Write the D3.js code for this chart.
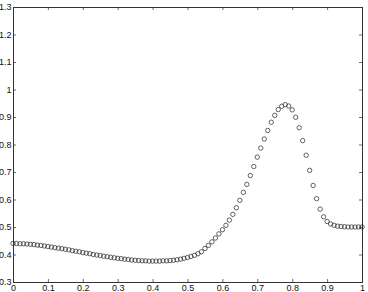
<!DOCTYPE html>
<html>
<head>
<meta charset="utf-8">
<script src="https://cdn.jsdelivr.net/npm/d3@7"></script>
<style>
  body { margin: 0; background: #fff; }
  svg { display: block; }
  .tick text { font-family: "Liberation Sans", Arial, sans-serif; font-size: 9px; fill: #111; }
</style>
</head>
<body>
<div id="chart"></div>
<script>
let width = 368
let height = 292

// sample positions and values
let xs = [0.00, 0.01, 0.02, 0.03, 0.04, 0.05, 0.06, 0.07, 0.08, 0.09,
          0.10, 0.11, 0.12, 0.13, 0.14, 0.15, 0.16, 0.17, 0.18, 0.19,
          0.20, 0.21, 0.22, 0.23, 0.24, 0.25, 0.26, 0.27, 0.28, 0.29,
          0.30, 0.31, 0.32, 0.33, 0.34, 0.35, 0.36, 0.37, 0.38, 0.39,
          0.40, 0.41, 0.42, 0.43, 0.44, 0.45, 0.46, 0.47, 0.48, 0.49,
          0.50, 0.51, 0.52, 0.53, 0.54, 0.55, 0.56, 0.57, 0.58, 0.59,
          0.60, 0.61, 0.62, 0.63, 0.64, 0.65, 0.66, 0.67, 0.68, 0.69,
          0.70, 0.71, 0.72, 0.73, 0.74, 0.75, 0.76, 0.77, 0.78, 0.79,
          0.80, 0.81, 0.82, 0.83, 0.84, 0.85, 0.86, 0.87, 0.88, 0.89,
          0.90, 0.91, 0.92, 0.93, 0.94, 0.95, 0.96, 0.97, 0.98, 0.99, 1.00]
let ys = [0.440, 0.440, 0.439, 0.439, 0.438, 0.437, 0.436, 0.434, 0.433, 0.431,
          0.429, 0.427, 0.425, 0.423, 0.421, 0.419, 0.417, 0.414, 0.412, 0.410,
          0.407, 0.405, 0.403, 0.400, 0.398, 0.396, 0.394, 0.392, 0.390, 0.388,
          0.386, 0.385, 0.383, 0.382, 0.380, 0.379, 0.378, 0.377, 0.377, 0.376,
          0.376, 0.376, 0.376, 0.377, 0.377, 0.378, 0.379, 0.381, 0.383, 0.386,
          0.389, 0.393, 0.397, 0.403, 0.410, 0.422, 0.433, 0.446, 0.460, 0.475,
          0.490, 0.506, 0.525, 0.546, 0.570, 0.597, 0.626, 0.655, 0.687, 0.720,
          0.754, 0.787, 0.820, 0.851, 0.881, 0.906, 0.927, 0.939, 0.945, 0.940,
          0.926, 0.899, 0.861, 0.814, 0.761, 0.706, 0.651, 0.603, 0.565, 0.537,
          0.520, 0.511, 0.506, 0.503, 0.502, 0.501, 0.500, 0.500, 0.500, 0.500, 0.500]

let xTicks = [0, 0.1, 0.2, 0.3, 0.4, 0.5, 0.6, 0.7, 0.8, 0.9, 1]
let yTicks = [0.3, 0.4, 0.5, 0.6, 0.7, 0.8, 0.9, 1, 1.1, 1.2, 1.3]

let margin = { top: 7, right: 6, bottom: 10, left: 13 }

let svg = d3.select('#chart')
            .append('svg')
            .attr('width', width)
            .attr('height', height)

let x = d3.scaleLinear()
          .domain([0, 1])
          .range([margin.left, width - margin.right])

let y = d3.scaleLinear()
          .domain([0.3, 1.3])
          .range([height - margin.bottom, margin.top])

let fmt = d3.format('~g')

// bottom axis with labels, ticks pointing inwards
svg.append('g')
   .attr('transform', 'translate(0,' + (height - margin.bottom) + ')')
   .call(d3.axisBottom(x).tickValues(xTicks).tickFormat(fmt).tickSizeInner(-3).tickSizeOuter(0).tickPadding(3))

svg.append('g')
   .attr('transform', 'translate(' + margin.left + ',0)')
   .call(d3.axisLeft(y).tickValues(yTicks).tickFormat(fmt).tickSizeInner(-3).tickSizeOuter(0).tickPadding(1.5))

// top and right: ticks only
svg.append('g')
   .attr('transform', 'translate(0,' + margin.top + ')')
   .call(d3.axisTop(x).tickValues(xTicks).tickFormat('').tickSizeInner(-3).tickSizeOuter(0))

svg.append('g')
   .attr('transform', 'translate(' + (width - margin.right) + ',0)')
   .call(d3.axisRight(y).tickValues(yTicks).tickFormat('').tickSizeInner(-3).tickSizeOuter(0))

svg.selectAll('.domain').remove()
svg.selectAll('.tick line').attr('stroke', '#444').attr('stroke-width', 0.8)

// box
svg.append('rect')
   .attr('x', x(0))
   .attr('y', y(1.3))
   .attr('width', x(1) - x(0))
   .attr('height', y(0.3) - y(1.3))
   .attr('fill', 'none')
   .attr('stroke', '#333')
   .attr('stroke-width', 1)
   .attr('shape-rendering', 'crispEdges')

// markers
svg.append('g')
   .selectAll('circle')
   .data(xs)
   .enter()
   .append('circle')
   .attr('cx', function (d) { return x(d) })
   .attr('cy', function (d, i) { return y(ys[i]) })
   .attr('r', 2.2)
   .attr('fill', 'none')
   .attr('stroke', '#222')
   .attr('stroke-width', 0.7)
</script>
</body>
</html>
